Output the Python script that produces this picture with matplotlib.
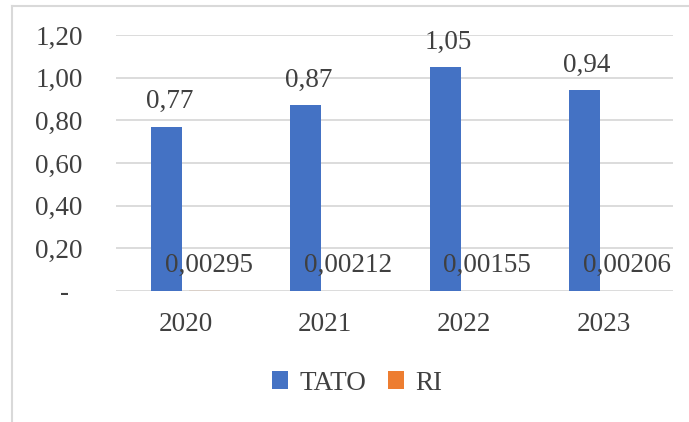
import matplotlib.pyplot as plt
import numpy as np
from matplotlib.lines import Line2D

years = ["2020", "2021", "2022", "2023"]
tato = [0.77, 0.87, 1.05, 0.94]
ri = [0.00295, 0.00212, 0.00155, 0.00206]
tato_labels = ["0,77", "0,87", "1,05", "0,94"]
ri_labels = ["0,00295", "0,00212", "0,00155", "0,00206"]
yticks = [0.0, 0.2, 0.4, 0.6, 0.8, 1.0, 1.2]

plt.rcParams["font.family"] = ["Liberation Serif", "DejaVu Serif"]
text_color = "#404040"
fs = 19.5

fig = plt.figure(figsize=(6.89, 4.22), dpi=100)
ax = fig.add_axes([116 / 689, 1 - 291 / 422, (673 - 116) / 689, (291 - 35) / 422])

x = np.arange(len(years))
w = 0.223
off = 0.137
b1 = ax.bar(x - off, tato, w, color="#4472C4", label="TATO", zorder=3)
b2 = ax.bar(x + off, ri, w, color="#ED7D31", label="RI", zorder=1)

for i in range(len(years)):
    ax.annotate(tato_labels[i], (x[i] - off, tato[i]), xytext=(2, 9),
                textcoords="offset points", ha="center", va="bottom",
                fontsize=fs, color=text_color)
    ax.annotate(ri_labels[i], (x[i] + off, ri[i]), xytext=(3, 9),
                textcoords="offset points", ha="center", va="bottom",
                fontsize=fs, color=text_color)

ax.set_xlim(-0.5, len(years) - 0.5)
ax.set_ylim(0, 1.2)
ax.set_yticks(yticks)
ax.set_yticklabels(["-  "] + [f"{v:.2f}".replace(".", ",") for v in yticks[1:]])
ax.set_xticks(x)
ax.set_xticklabels(years)
ax.tick_params(axis="both", length=0, labelsize=fs, labelcolor=text_color)
ax.tick_params(axis="y", pad=24)
ax.tick_params(axis="x", pad=15)
ax.set_axisbelow("line")
ax.yaxis.grid(True, color="#D9D9D9", linewidth=1.3)
for s in ax.spines.values():
    s.set_visible(False)

fig.legend(handles=[b1, b2], loc="center", bbox_to_anchor=(357 / 689, 1 - 383 / 422),
           ncol=2, frameon=False, fontsize=fs, handlelength=0.6, handleheight=0.6,
           handletextpad=0.4, columnspacing=0.8, labelcolor=text_color)

# chart border (left and top edges visible in the crop)
fig.add_artist(Line2D([12 / 689, 12 / 689], [0, 1 - 6 / 422], transform=fig.transFigure,
                      color="#D9D9D9", linewidth=1.5))
fig.add_artist(Line2D([12 / 689, 1], [1 - 6 / 422, 1 - 6 / 422], transform=fig.transFigure,
                      color="#D9D9D9", linewidth=1.5))

fig.savefig("out.png", dpi=100)
